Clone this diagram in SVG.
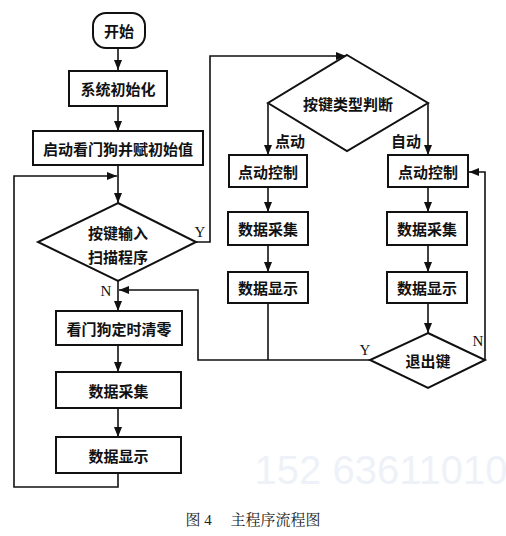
<svg xmlns="http://www.w3.org/2000/svg" width="506" height="536" viewBox="0 0 506 536">
<defs>
<marker id="ah" markerWidth="10" markerHeight="8" refX="10" refY="4" orient="auto" markerUnits="userSpaceOnUse">
<path d="M0,0 L10,4 L0,8 Z" fill="#111"/>
</marker>
<style>
.n{fill:#fff;stroke:#111;stroke-width:2}
.t{font-family:"Noto Sans CJK SC","Noto Sans CJK JP",sans-serif;font-size:15px;font-weight:bold;fill:#111;text-anchor:middle;dominant-baseline:central}
.l{font-family:"Liberation Serif",serif;font-size:15px;fill:#111;text-anchor:middle;dominant-baseline:central}
.c{fill:none;stroke:#111;stroke-width:1.6}
</style>
</defs>
<rect width="506" height="536" fill="#fff"/>
<text x="381" y="470" font-family="Liberation Sans,sans-serif" font-size="40" fill="#eef2f8" text-anchor="middle" dominant-baseline="central">152 63611010</text>
<g id="connectors">
<path class="c" d="M118,48 V70" marker-end="url(#ah)"/>
<path class="c" d="M118,106 V131" marker-end="url(#ah)"/>
<path class="c" d="M118,165 V203" marker-end="url(#ah)"/>
<path class="c" d="M118,473 V487 H14 V176 H117" marker-end="url(#ah)"/>
<path class="c" d="M196,242 H210 V56 H346" marker-end="url(#ah)"/>
<path class="c" d="M118,281 V311" marker-end="url(#ah)"/>
<path class="c" d="M118,345 V372" marker-end="url(#ah)"/>
<path class="c" d="M118,408 V437" marker-end="url(#ah)"/>
<path class="c" d="M268,103 V155" marker-end="url(#ah)"/>
<path class="c" d="M428,103 V155" marker-end="url(#ah)"/>
<path class="c" d="M268,187 V212" marker-end="url(#ah)"/>
<path class="c" d="M268,245 V272" marker-end="url(#ah)"/>
<path class="c" d="M428,187 V212" marker-end="url(#ah)"/>
<path class="c" d="M428,245 V272" marker-end="url(#ah)"/>
<path class="c" d="M428,303 V333" marker-end="url(#ah)"/>
<path class="c" d="M268,303 V360"/>
<path class="c" d="M370,360 H198 V290 H119" marker-end="url(#ah)"/>
<path class="c" d="M485,360 V172 H469" marker-end="url(#ah)"/>
<text class="l" x="200" y="232">Y</text>
<text class="l" x="106" y="291">N</text>
<text class="l" x="365" y="350">Y</text>
<text class="l" x="478" y="341">N</text>
<text class="t" x="290" y="140">点动</text>
<text class="t" x="406" y="140">自动</text>
</g>
<g id="start"><rect class="n" x="93" y="13" width="52" height="35" rx="13"/><text class="t" x="119" y="30">开始</text></g>
<g id="init"><rect class="n" x="69" y="71" width="98" height="35"/><text class="t" x="118" y="88.5">系统初始化</text></g>
<g id="wdt"><rect class="n" x="33" y="131" width="170" height="34"/><text class="t" x="118" y="148">启动看门狗并赋初始值</text></g>
<g id="scan"><path class="n" d="M118,203 L196,242 L118,281 L38,242 Z"/><text class="t" x="118" y="232">按键输入</text><text class="t" x="118" y="256">扫描程序</text></g>
<g id="clr"><rect class="n" x="56" y="311" width="126" height="34"/><text class="t" x="119" y="328">看门狗定时清零</text></g>
<g id="acq"><rect class="n" x="56" y="372" width="125" height="36"/><text class="t" x="118.5" y="390">数据采集</text></g>
<g id="disp"><rect class="n" x="56" y="437" width="125" height="36"/><text class="t" x="118.5" y="455">数据显示</text></g>
<g id="type"><path class="n" d="M347,55 L428,103 L347,151 L268,103 Z"/><text class="t" x="348" y="103">按键类型判断</text></g>
<g id="jog"><rect class="n" x="229" y="155" width="78" height="32"/><text class="t" x="268" y="171">点动控制</text></g>
<g id="jogacq"><rect class="n" x="228" y="212" width="80" height="33"/><text class="t" x="268" y="228.5">数据采集</text></g>
<g id="jogdisp"><rect class="n" x="228" y="272" width="80" height="31"/><text class="t" x="268" y="287.5">数据显示</text></g>
<g id="auto"><rect class="n" x="388" y="155" width="80" height="32"/><text class="t" x="428" y="171">点动控制</text></g>
<g id="autoacq"><rect class="n" x="387" y="212" width="80" height="33"/><text class="t" x="427" y="228.5">数据采集</text></g>
<g id="autodisp"><rect class="n" x="387" y="272" width="80" height="31"/><text class="t" x="427" y="287.5">数据显示</text></g>
<g id="exit"><path class="n" d="M428,333 L485,360 L428,388 L370,360 Z"/><text class="t" x="428" y="360">退出键</text></g>
<text x="253" y="520" font-family="'Liberation Serif','Noto Serif CJK SC','Noto Sans CJK SC',serif" font-size="15" fill="#222" text-anchor="middle" dominant-baseline="central" font-weight="normal">图 4　 主程序流程图</text>
</svg>
